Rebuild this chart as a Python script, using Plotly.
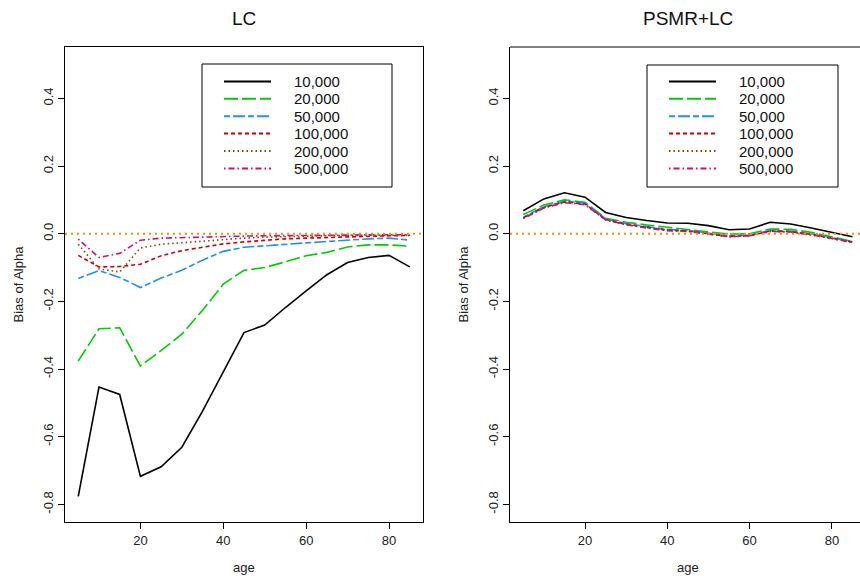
import plotly.graph_objects as go

ages = [5, 10, 15, 20, 25, 30, 35, 40, 45, 50, 55, 60, 65, 70, 75, 80, 85]
sample_sizes = ["10,000", "20,000", "50,000", "100,000", "200,000", "500,000"]

lc_10k = [-0.776, -0.453, -0.475, -0.717, -0.689, -0.631, -0.524, -0.406, -0.292, -0.270, -0.218, -0.169, -0.121, -0.085, -0.070, -0.064, -0.098]
lc_20k = [-0.376, -0.281, -0.278, -0.391, -0.345, -0.297, -0.226, -0.149, -0.108, -0.100, -0.083, -0.065, -0.055, -0.039, -0.033, -0.033, -0.037]
lc_50k = [-0.132, -0.109, -0.129, -0.159, -0.131, -0.108, -0.078, -0.052, -0.040, -0.035, -0.032, -0.027, -0.023, -0.018, -0.015, -0.013, -0.019]
lc_100k = [-0.064, -0.098, -0.097, -0.090, -0.065, -0.050, -0.040, -0.030, -0.024, -0.019, -0.015, -0.013, -0.011, -0.008, -0.007, -0.006, -0.005]
lc_200k = [-0.031, -0.104, -0.113, -0.042, -0.031, -0.026, -0.022, -0.017, -0.013, -0.010, -0.008, -0.007, -0.006, -0.005, -0.005, -0.004, -0.004]
lc_500k = [-0.016, -0.070, -0.058, -0.019, -0.013, -0.011, -0.009, -0.008, -0.007, -0.006, -0.006, -0.005, -0.004, -0.004, -0.003, -0.003, -0.003]

psmr_10k = [0.068, 0.103, 0.121, 0.108, 0.063, 0.048, 0.039, 0.032, 0.031, 0.024, 0.012, 0.014, 0.034, 0.029, 0.017, 0.004, -0.009]
psmr_20k = [0.057, 0.085, 0.100, 0.093, 0.046, 0.034, 0.026, 0.019, 0.014, 0.007, -0.001, 0.000, 0.014, 0.013, 0.004, -0.009, -0.023]
psmr_50k = [0.049, 0.080, 0.096, 0.091, 0.044, 0.030, 0.021, 0.013, 0.010, 0.003, -0.006, -0.004, 0.010, 0.008, 0.000, -0.012, -0.024]
psmr_100k = [0.047, 0.078, 0.094, 0.088, 0.042, 0.028, 0.019, 0.011, 0.008, 0.000, -0.008, -0.006, 0.008, 0.006, -0.002, -0.013, -0.025]
psmr_200k = [0.046, 0.077, 0.093, 0.087, 0.041, 0.027, 0.018, 0.010, 0.008, -0.001, -0.009, -0.006, 0.007, 0.006, -0.003, -0.014, -0.026]
psmr_500k = [0.045, 0.076, 0.092, 0.086, 0.041, 0.027, 0.017, 0.009, 0.007, -0.001, -0.009, -0.006, 0.007, 0.005, -0.003, -0.014, -0.026]

panel_titles = ["LC", "PSMR+LC"]
x_title = "age"
y_title = "Bias of Alpha"

colors = ["#000000", "#00CD00", "#1E90FF", "#CD0000", "#8B4500", "#CD1076"]
dashes = ["solid", "14px,4px", "6px,3px,12px,3px", "4px,3px", "1.5px,3px", "1.5px,3px,6px,3px"]
LW = 1.6
FONT = "Liberation Sans, Arial, sans-serif"

W, H = 860, 576
def px(x):
    return x / W
def py(y):
    return 1 - y / H

fig = go.Figure()

lc_series = [lc_10k, lc_20k, lc_50k, lc_100k, lc_200k, lc_500k]
ps_series = [psmr_10k, psmr_20k, psmr_50k, psmr_100k, psmr_200k, psmr_500k]

for i, ys in enumerate(lc_series):
    fig.add_trace(go.Scatter(x=ages, y=ys, mode="lines", xaxis="x", yaxis="y",
                             line=dict(color=colors[i], width=LW, dash=dashes[i]),
                             showlegend=False, hoverinfo="skip"))
for i, ys in enumerate(ps_series):
    fig.add_trace(go.Scatter(x=ages, y=ys, mode="lines", xaxis="x2", yaxis="y2",
                             line=dict(color=colors[i], width=LW, dash=dashes[i]),
                             showlegend=False, hoverinfo="skip"))

ydom = [py(522), py(47)]
yrange = [-0.852, 0.552]
axis_common = dict(showgrid=False, zeroline=False, ticks="outside", ticklen=6,
                   tickwidth=1, tickcolor="black", linecolor="black", linewidth=1,
                   showline=True, tickfont=dict(family=FONT, size=13, color="#222"))

fig.update_layout(
    width=W, height=H, margin=dict(l=0, r=0, t=0, b=0),
    paper_bgcolor="white", plot_bgcolor="white",
    xaxis=dict(domain=[px(65), px(423)], range=[1.8, 88.2], tickvals=[20, 40, 60, 80],
               mirror=True, anchor="y", **axis_common),
    yaxis=dict(domain=ydom, range=yrange, tickvals=[-0.8, -0.6, -0.4, -0.2, 0.0, 0.2, 0.4],
               ticktext=["-0.8", "-0.6", "-0.4", "-0.2", "0.0", "0.2", "0.4"],
               tickangle=-90, mirror=True, anchor="x", **axis_common),
    xaxis2=dict(domain=[px(510), 1.0], range=[1.77, 86.83], tickvals=[20, 40, 60, 80],
                mirror=False, anchor="y2", **axis_common),
    yaxis2=dict(domain=ydom, range=yrange, tickvals=[-0.8, -0.6, -0.4, -0.2, 0.0, 0.2, 0.4],
                ticktext=["-0.8", "-0.6", "-0.4", "-0.2", "0.0", "0.2", "0.4"],
                tickangle=-90, mirror=False, anchor="x2", **axis_common),
)

shapes = []
# zero reference lines
for xr, yr in [("x", "y"), ("x2", "y2")]:
    shapes.append(dict(type="line", xref=xr + " domain", yref=yr, x0=0, x1=1, y0=0, y1=0,
                       line=dict(color="#FF8C00", width=1.8, dash="2px,4px"), layer="above"))
# top border of right panel
shapes.append(dict(type="line", xref="paper", yref="paper", x0=px(510), x1=1.0,
                   y0=py(47), y1=py(47), line=dict(color="black", width=1)))

annotations = []
# panel titles
for title, cx in zip(panel_titles, [244, 688]):
    annotations.append(dict(text=title, x=px(cx), y=py(18), xref="paper", yref="paper",
                            showarrow=False, xanchor="center", yanchor="middle",
                            font=dict(family=FONT, size=19, color="#111")))
# axis titles
for cx in [244, 688]:
    annotations.append(dict(text=x_title, x=px(cx), y=py(567), xref="paper", yref="paper",
                            showarrow=False, xanchor="center", yanchor="middle",
                            font=dict(family=FONT, size=13, color="#222")))
for cx in [18, 463]:
    annotations.append(dict(text=y_title, x=px(cx), y=py(284.5), xref="paper", yref="paper",
                            showarrow=False, xanchor="center", yanchor="middle", textangle=-90,
                            font=dict(family=FONT, size=13, color="#222")))

# custom legends
legend_boxes = [(202, 392, 64, 187, 224, 271, 292), (647, 838, 65, 187, 669, 716, 737)]
row_y = [81.5, 98.8, 116.2, 133.6, 151.0, 168.4]
for (bx0, bx1, by0, by1, lx0, lx1, tx) in legend_boxes:
    shapes.append(dict(type="rect", xref="paper", yref="paper", x0=px(bx0), x1=px(bx1),
                       y0=py(by1), y1=py(by0), line=dict(color="black", width=1),
                       fillcolor="white", layer="above"))
    for i, lab in enumerate(sample_sizes):
        shapes.append(dict(type="line", xref="paper", yref="paper", x0=px(lx0), x1=px(lx1),
                           y0=py(row_y[i]), y1=py(row_y[i]),
                           line=dict(color=colors[i], width=LW + 0.4, dash=dashes[i]),
                           layer="above"))
        annotations.append(dict(text=lab, x=px(tx), y=py(row_y[i]), xref="paper", yref="paper",
                                showarrow=False, xanchor="left", yanchor="middle",
                                font=dict(family=FONT, size=15, color="#111")))

fig.update_layout(shapes=shapes, annotations=annotations)
fig.write_html("out.html")
